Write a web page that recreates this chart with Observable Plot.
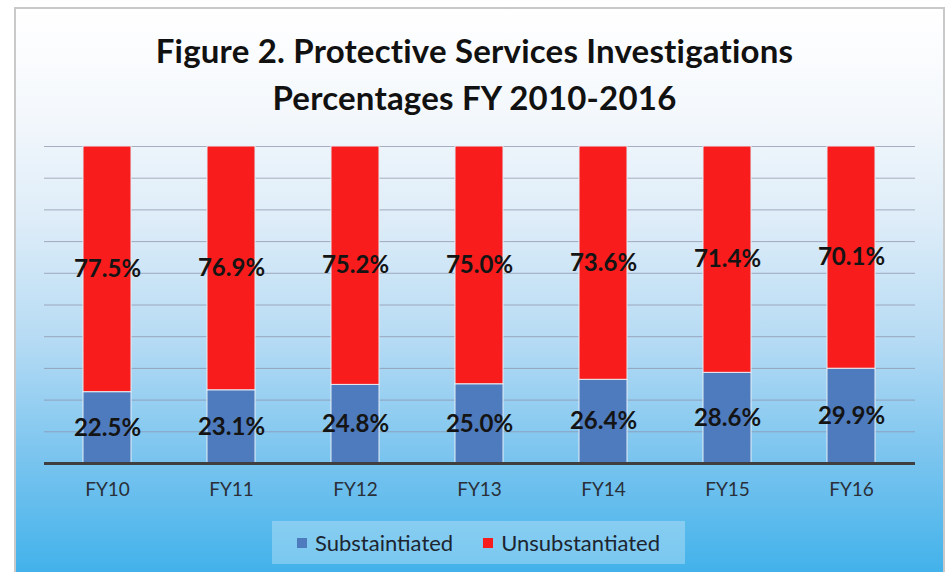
<!DOCTYPE html>
<html>
<head>
<meta charset="utf-8">
<script src="https://cdn.jsdelivr.net/npm/d3@7"></script>
<script src="https://cdn.jsdelivr.net/npm/@observablehq/plot@0.6"></script>
<style>
  html, body { margin: 0; padding: 0; background: #ffffff; }
  #page { position: relative; width: 949px; height: 572px; overflow: hidden; background: #ffffff; }
  #frame {
    position: absolute; left: 14px; top: 7px; width: 927px; height: 570px;
    border: 2px solid #c9c9c9;
    background: linear-gradient(to bottom, #ffffff 0%, #f4f8fc 18%, #dcecf8 38%, #b6dbf4 58%, #7cc5ef 78%, #3fb1ea 100%);
  }
  #title {
    position: absolute; left: 0; top: 27px; width: 949px; text-align: center;
    font-family: Lato, "Open Sans", sans-serif; font-weight: 700; font-size: 33px;
    line-height: 47px; color: #111111; letter-spacing: 0.2px;
  }
  #chart { position: absolute; left: 0; top: 130px; }
  #legend {
    position: absolute; left: 272px; top: 521px; width: 413px; height: 43px;
    background: rgba(255,255,255,0.28);
    font-family: Lato, "Open Sans", sans-serif; font-size: 22px; color: #1c2530;
    display: flex; align-items: center; justify-content: center; gap: 30px;
  }
  .item { display: flex; align-items: center; gap: 8px; }
  .sw { width: 10px; height: 10px; display: inline-block; }
</style>
</head>
<body>
<div id="page">
  <div id="frame"></div>
  <div id="title">Figure 2. Protective Services Investigations<br>Percentages FY 2010-2016</div>
  <div id="chart"></div>
  <div id="legend"></div>
</div>
<script>
const years = ["FY10", "FY11", "FY12", "FY13", "FY14", "FY15", "FY16"];
const substantiated = [22.5, 23.1, 24.8, 25.0, 26.4, 28.6, 29.9];
const unsubstantiated = [77.5, 76.9, 75.2, 75.0, 73.6, 71.4, 70.1];
const seriesNames = ["Substaintiated", "Unsubstantiated"];
const seriesColors = ["#4d7bbd", "#f81c1c"];
const gridTicks = [10, 20, 30, 40, 50, 60, 70, 80, 90, 100];

const data = years.flatMap((fy, i) => [
  {fy, series: seriesNames[0], value: substantiated[i]},
  {fy, series: seriesNames[1], value: unsubstantiated[i]}
]);

const chart = Plot.plot({
  width: 949,
  height: 383,
  marginLeft: 44,
  marginRight: 34,
  marginTop: 16,
  marginBottom: 50,
  style: {background: "transparent", overflow: "visible"},
  x: {domain: years, paddingInner: 0.61, paddingOuter: 0.3, label: null},
  y: {domain: [0, 100], axis: null},
  color: {domain: seriesNames, range: seriesColors},
  marks: [
    Plot.ruleY(gridTicks, {stroke: "#8c8ea6", strokeOpacity: 0.7, strokeWidth: 1}),
    Plot.barY(data, Plot.stackY({x: "fy", y: "value", z: "series", fill: "series", order: seriesNames, stroke: "#e6eef6", strokeWidth: 1})),
    Plot.ruleY([0], {stroke: "#3f3f3f", strokeWidth: 3}),
    Plot.text(data, Plot.stackY({x: "fy", y: "value", z: "series", order: seriesNames,
      text: d => d.value.toFixed(1) + "%",
      fontSize: 24, fontWeight: 700, fill: "#141414", fontFamily: "Lato, 'Open Sans', sans-serif"})),
    Plot.axisX({tickSize: 0, tickPadding: 19, fontSize: 19, fill: "#2a2f38", fontFamily: "Lato, 'Open Sans', sans-serif", label: null})
  ]
});
document.getElementById("chart").appendChild(chart);

const legend = document.getElementById("legend");
seriesNames.forEach((name, i) => {
  const item = document.createElement("div");
  item.className = "item";
  const sw = document.createElement("span");
  sw.className = "sw";
  sw.style.background = seriesColors[i];
  const label = document.createElement("span");
  label.textContent = name;
  item.appendChild(sw);
  item.appendChild(label);
  legend.appendChild(item);
});
</script>
</body>
</html>
